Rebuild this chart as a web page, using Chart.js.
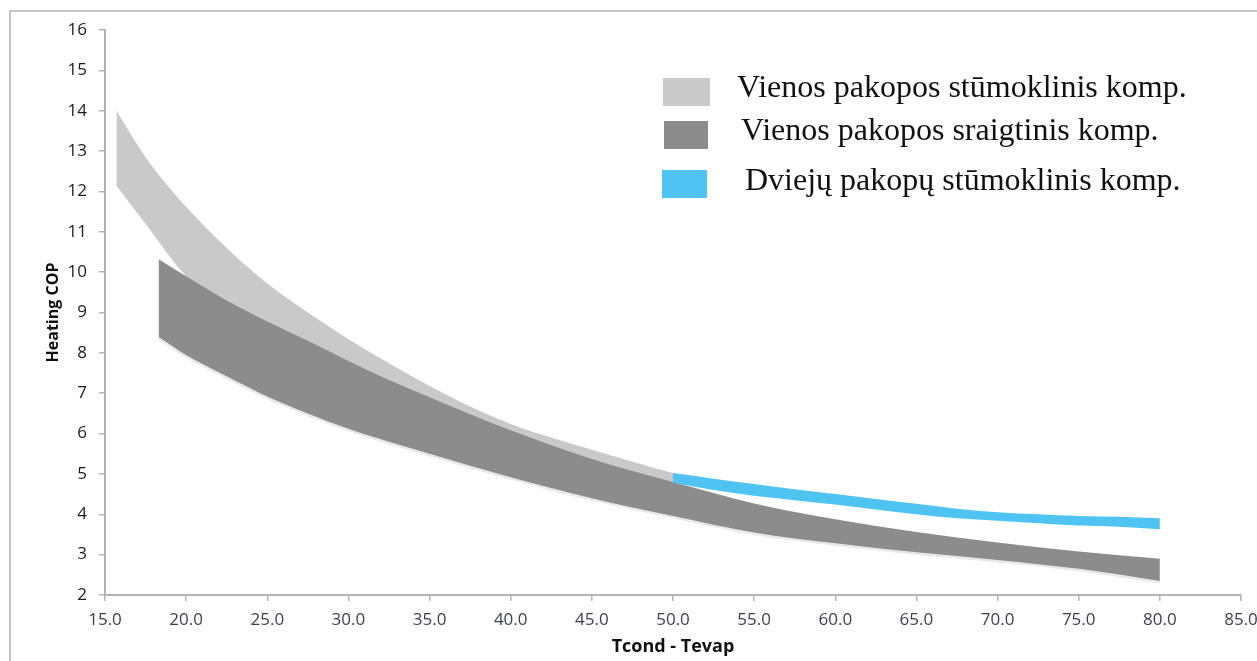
<!DOCTYPE html>
<html>
<head>
<meta charset="utf-8">
<title>Heating COP</title>
<script src="https://cdn.jsdelivr.net/npm/chart.js"></script>
<style>
  html, body { margin: 0; padding: 0; background: #fff; overflow: hidden; }
  #frame { position: absolute; left: 9px; top: 10px; width: 1300px; height: 700px;
           border-left: 2px solid #c4c4c4; border-top: 2px solid #c4c4c4; }
  #wrap { position: absolute; left: 0; top: 0; width: 1257px; height: 661px; }
</style>
</head>
<body>
<div id="frame"></div>
<div id="wrap"><canvas id="chart"></canvas></div>
<script>
// Tcond - Tevap (x) and heating COP (y) for each band: upper and lower edge
var lightX    = [15.7, 17.5, 20, 22.5, 25, 27.5, 30, 32.5, 35, 37.5, 40, 42.5, 45, 47.5, 50];
var lightHigh = [14.0, 12.85, 11.62, 10.6, 9.72, 9.0, 8.34, 7.74, 7.18, 6.67, 6.24, 5.9, 5.6, 5.3, 5.02];
var lightLow  = [12.15, 11.2, 9.9, 9.1, 8.5, 8.0, 7.5, 7.0, 6.6, 6.2, 5.85, 5.5, 5.2, 4.95, 4.8];

var darkX    = [18.3, 20, 22.5, 25, 27.5, 30, 32.5, 35, 37.5, 40, 42.5, 45, 47.5, 50, 55, 60, 65, 70, 75, 80];
var darkHigh = [10.32, 9.9, 9.3, 8.78, 8.3, 7.8, 7.33, 6.9, 6.48, 6.08, 5.71, 5.37, 5.07, 4.8, 4.27, 3.88, 3.56, 3.3, 3.08, 2.9];
var darkLow  = [8.4, 7.95, 7.42, 6.92, 6.5, 6.12, 5.8, 5.5, 5.2, 4.92, 4.65, 4.4, 4.17, 3.96, 3.55, 3.28, 3.06, 2.87, 2.65, 2.35];

var blueX    = [50, 52.5, 55, 57.5, 60, 62.5, 65, 67.5, 70, 72.5, 75, 77.5, 80];
var blueHigh = [5.02, 4.88, 4.75, 4.62, 4.5, 4.38, 4.26, 4.14, 4.05, 4.0, 3.96, 3.94, 3.9];
var blueLow  = [4.78, 4.6, 4.46, 4.35, 4.24, 4.12, 4.0, 3.9, 3.84, 3.78, 3.72, 3.69, 3.63];

var bandLabels = ["Vienos pakopos stūmoklinis komp.", "Vienos pakopos sraigtinis komp.", "Dviejų pakopų stūmoklinis komp."];
var bandColors = ["#c9c9c9", "#8c8c8c", "#4fc3f1"];

var xTicks = [15, 20, 25, 30, 35, 40, 45, 50, 55, 60, 65, 70, 75, 80, 85];
var yTicks = [2, 3, 4, 5, 6, 7, 8, 9, 10, 11, 12, 13, 14, 15, 16];

function pts(xs, ys) {
    return xs.map(function (x, i) { return { x: x, y: ys[i] }; });
}

// each band = upper line filled down to the next dataset (its lower line)
function band(label, color, xs, hi, lo, shadow) {
    return [{
        label: label,
        data: pts(xs, hi),
        fill: "+1",
        backgroundColor: color,
        borderWidth: 0
    }, {
        label: "",
        data: pts(xs, lo),
        fill: false,
        borderColor: shadow ? "rgba(0,0,0,0.09)" : "rgba(0,0,0,0)",
        borderWidth: shadow ? 5 : 0
    }];
}

var datasets = []
    .concat(band(bandLabels[2], bandColors[2], blueX, blueHigh, blueLow, false))
    .concat(band(bandLabels[1], bandColors[1], darkX, darkHigh, darkLow, true))
    .concat(band(bandLabels[0], bandColors[0], lightX, lightHigh, lightLow, false));

// legend drawn inside the plot, top right, in a serif face like the original
var bandLegend = {
    id: "bandLegend",
    afterDraw: function (chart) {
        var ctx = chart.ctx;
        var items = [
            { i: 4, box: [663, 78, 47, 28], tx: 737, ty: 97 },
            { i: 2, box: [664, 121, 44, 28], tx: 741, ty: 140 },
            { i: 0, box: [662, 170, 45, 28], tx: 745, ty: 190 }
        ];
        ctx.save();
        ctx.font = "32px 'Liberation Serif', 'Times New Roman', serif";
        ctx.textBaseline = "alphabetic";
        items.forEach(function (it) {
            var ds = chart.data.datasets[it.i];
            ctx.fillStyle = ds.backgroundColor;
            ctx.fillRect(it.box[0], it.box[1], it.box[2], it.box[3]);
            ctx.fillStyle = "#111";
            ctx.fillText(ds.label, it.tx, it.ty);
        });
        ctx.restore();
    }
};

var ctx = document.getElementById("chart").getContext("2d");
var chart = new Chart(ctx, {
    type: "line",
    data: { datasets: datasets },
    plugins: [bandLegend],
    options: {
        responsive: true,
        maintainAspectRatio: false,
        animation: false,
        layout: { padding: { top: 30, right: 16, bottom: 0, left: 0 } },
        elements: {
            point: { radius: 0, hoverRadius: 0 },
            line: { cubicInterpolationMode: "monotone" }
        },
        plugins: {
            legend: { display: false },
            tooltip: { enabled: false }
        },
        scales: {
            x: {
                type: "linear",
                min: 15,
                max: 85,
                afterBuildTicks: function (s) { s.ticks = xTicks.map(function (v) { return { value: v }; }); },
                afterFit: function (s) { s.height = 66; s.paddingRight = 0; s.paddingLeft = 0; },
                ticks: {
                    callback: function (v) { return v.toFixed(1); },
                    color: "#3e3e52",
                    padding: 9,
                    maxRotation: 0,
                    font: { family: "'Open Sans'", size: 17 }
                },
                grid: { drawOnChartArea: false, color: "#b4b4b4", tickLength: 6, lineWidth: 1.5 },
                border: { color: "#b4b4b4", width: 2 },
                title: {
                    display: true,
                    text: "Tcond - Tevap",
                    color: "#111",
                    padding: { top: 0, bottom: 3 },
                    font: { family: "'Open Sans'", size: 18, weight: "bold" }
                }
            },
            y: {
                min: 2,
                max: 16,
                afterBuildTicks: function (s) { s.ticks = yTicks.map(function (v) { return { value: v }; }); },
                afterFit: function (s) { s.width = 105; },
                ticks: {
                    color: "#1a1a1a",
                    padding: 12,
                    font: { family: "'Open Sans'", size: 17 }
                },
                grid: { drawOnChartArea: false, color: "#b4b4b4", tickLength: 6, lineWidth: 1.5 },
                border: { color: "#b4b4b4", width: 2 },
                title: {
                    display: true,
                    text: "Heating COP",
                    color: "#111",
                    padding: { top: 44, bottom: 0 },
                    font: { family: "'Open Sans'", size: 16, weight: "bold" }
                }
            }
        }
    }
});
</script>
</body>
</html>
